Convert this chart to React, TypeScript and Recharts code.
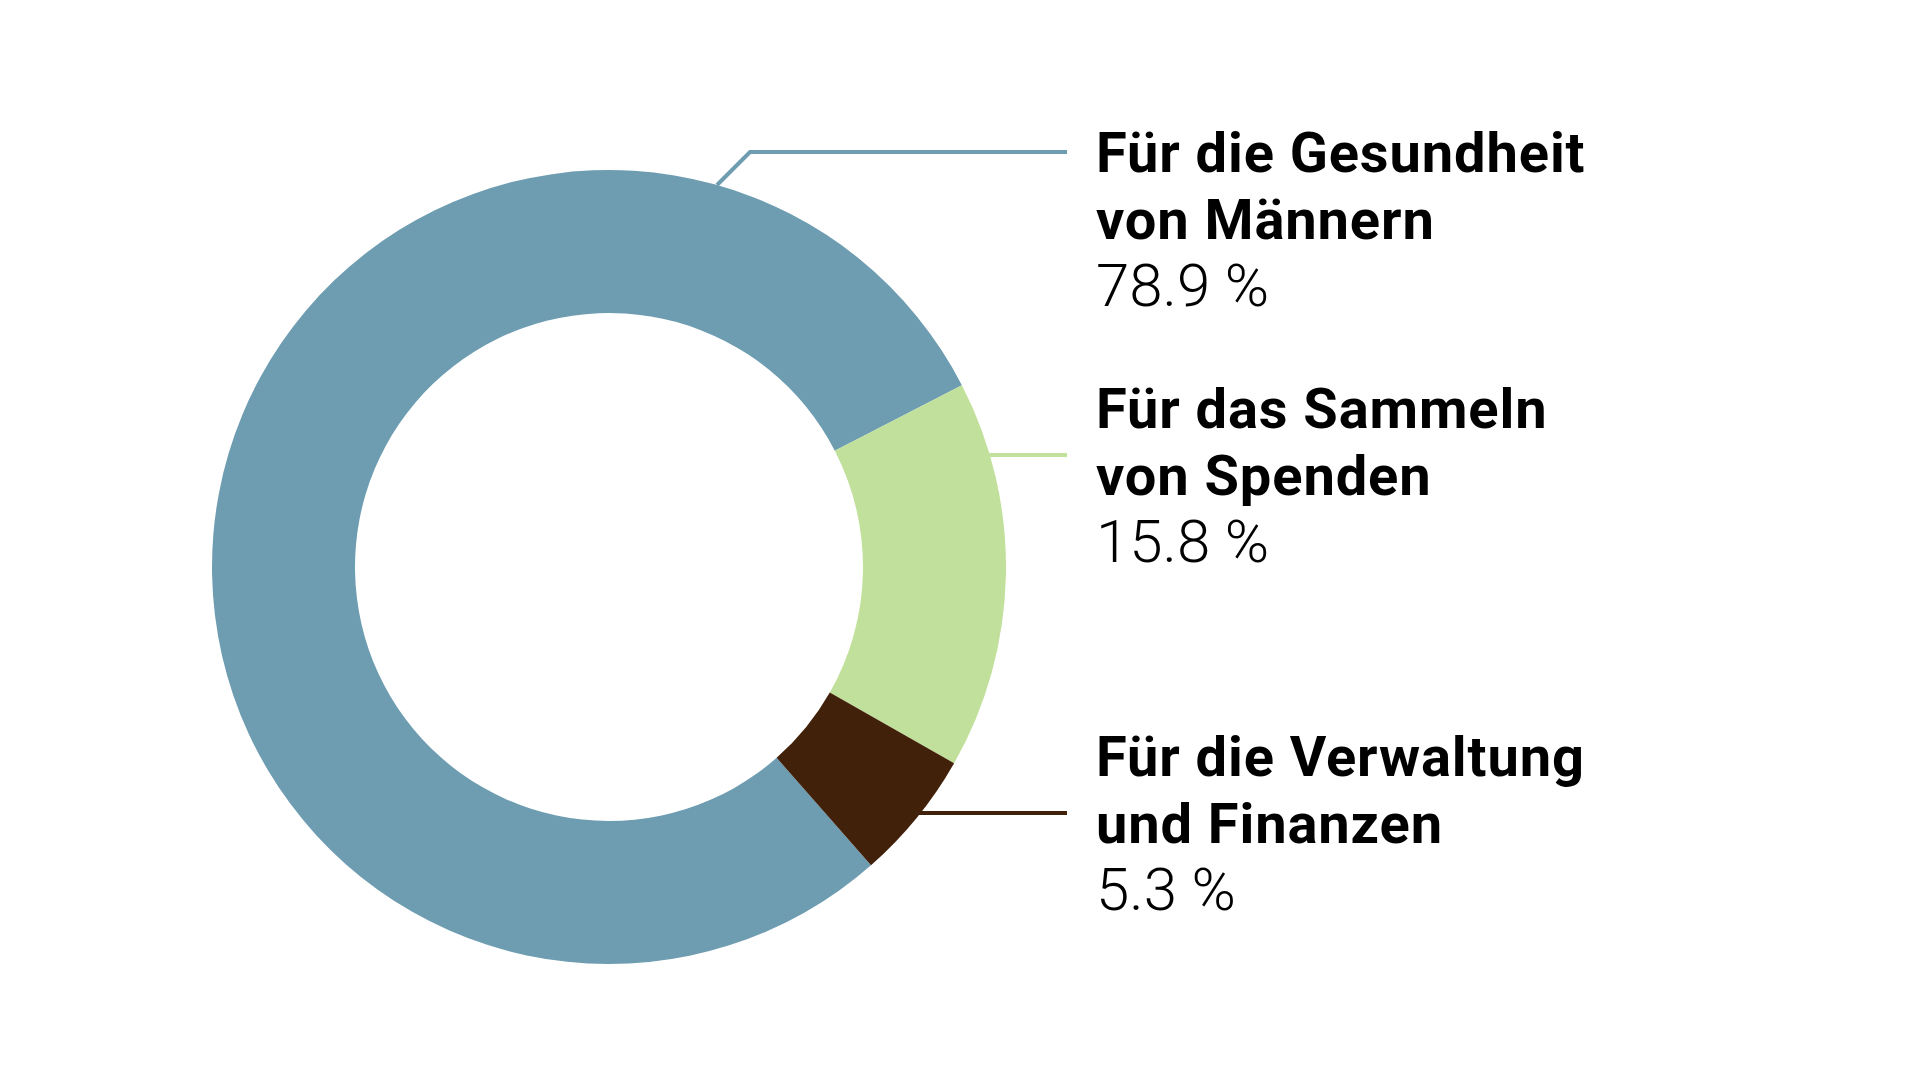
import { PieChart, Pie, Cell } from "recharts";

const titleLines = ["Für die Gesundheit", "Für das Sammeln", "Für die Verwaltung"];
const subtitleLines = ["von Männern", "von Spenden", "und Finanzen"];
const shares = [78.9, 15.8, 5.3];
const valueLabels = ["78.9 %", "15.8 %", "5.3 %"];
const colors = ["#6e9db2", "#c1e09b", "#42210a"];

const data = shares.map((v, i) => ({ name: `${titleLines[i]} ${subtitleLines[i]}`, value: v }));

// label blocks to the right of the ring
const textX = 1096;
const leaderEnd = 1067;
const firstBaseline = [172, 428, 776];
const leaderY = [152, 455, 813];
const elbowX: (number | null)[] = [750, null, null];
const lineGap = 67;

const renderLabel = (props: any) => {
  const { cx, cy, outerRadius: r, index } = props;
  const y = leaderY[index];
  const ex = elbowX[index];
  let d: string;
  if (ex != null) {
    // 45 degree elbow from the horizontal leader down to the ring
    const a = ex - cx;
    const b = y - cy;
    const B = 2 * (b - a);
    const C = a * a + b * b - r * r;
    const t = (-B - Math.sqrt(B * B - 8 * C)) / 4;
    d = `M${ex - t},${y + t}L${ex},${y}L${leaderEnd},${y}`;
  } else {
    const x0 = cx + Math.sqrt(r * r - (y - cy) * (y - cy));
    d = `M${x0 - 2},${y}L${leaderEnd},${y}`;
  }
  const base = firstBaseline[index];
  const bold = { fontFamily: "Roboto", fontWeight: 700, fontSize: 56, letterSpacing: 0.9, fill: "#000" };
  return (
    <g key={`lbl-${index}`}>
      <path d={d} stroke={colors[index]} strokeWidth={4} fill="none" />
      <text x={textX} y={base} {...bold}>
        {titleLines[index]}
      </text>
      <text x={textX} y={base + lineGap} {...bold}>
        {subtitleLines[index]}
      </text>
      <text x={textX} y={base + lineGap * 2} fontFamily="Roboto" fontWeight={300} fontSize={60} fill="#000">
        {valueLabels[index]}
      </text>
    </g>
  );
};

export default function App() {
  return (
    <div style={{ position: "absolute", left: 0, top: 0, width: 1920, height: 1080, background: "#fff" }}>
      <PieChart width={1920} height={1080}>
        <Pie
          data={data}
          dataKey="value"
          cx={604}
          cy={562}
          innerRadius={254}
          outerRadius={397}
          startAngle={-48.7}
          endAngle={-408.7}
          stroke="none"
          label={renderLabel}
          labelLine={false}
          isAnimationActive={false}
        >
          {data.map((_, i) => (
            <Cell key={i} fill={colors[i]} />
          ))}
        </Pie>
      </PieChart>
    </div>
  );
}
